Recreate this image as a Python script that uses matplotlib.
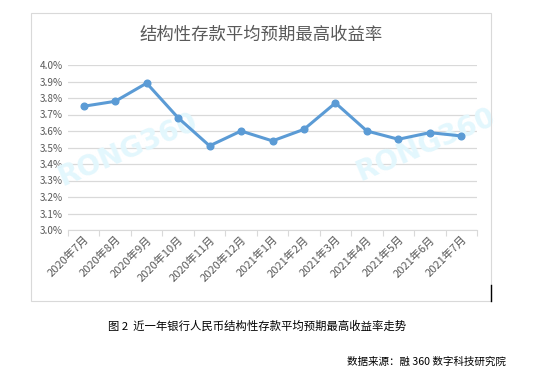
import matplotlib.pyplot as plt
from matplotlib.patches import Rectangle
from matplotlib.ticker import FuncFormatter

plt.rcParams['font.family'] = ['Noto Sans CJK SC', 'DejaVu Sans']

months = ['2020年7月', '2020年8月', '2020年9月', '2020年10月', '2020年11月', '2020年12月',
          '2021年1月', '2021年2月', '2021年3月', '2021年4月', '2021年5月', '2021年6月', '2021年7月']
rates = [3.75, 3.78, 3.89, 3.68, 3.51, 3.60, 3.54, 3.61, 3.77, 3.60, 3.55, 3.59, 3.57]
yticks = [3.0, 3.1, 3.2, 3.3, 3.4, 3.5, 3.6, 3.7, 3.8, 3.9, 4.0]

fig = plt.figure(figsize=(5.45, 3.8), dpi=100)
fig.patch.set_facecolor('white')

# chart frame
fig.patches.append(Rectangle((31 / 545, 1 - 301 / 380), 460 / 545, 288 / 380,
                             transform=fig.transFigure, fill=False,
                             edgecolor='#d9d9d9', linewidth=0.8))
fig.add_artist(plt.Line2D([491 / 545, 491 / 545], [1 - 301 / 380, 1 - 285 / 380],
                          transform=fig.transFigure, color='black', linewidth=1))

ax = fig.add_axes([68 / 545, 1 - 230 / 380, 409 / 545, 165 / 380])
x = range(len(months))
ax.plot(x, rates, color='#5b9bd5', linewidth=2.2, marker='o', markersize=4.8, zorder=5)

ax.set_xlim(-0.5, len(months) - 0.5)
ax.set_ylim(3.0, 4.0)
ax.set_yticks(yticks)
ax.yaxis.set_major_formatter(FuncFormatter(lambda v, p: f'{v:.1f}%'))
ax.grid(axis='y', color='#d9d9d9', linewidth=0.9)
ax.set_axisbelow(True)
for s in ['top', 'right', 'left']:
    ax.spines[s].set_visible(False)
ax.spines['bottom'].set_color('#d9d9d9')

ax.set_xticks([i - 0.5 for i in range(len(months) + 1)], minor=False)
ax.set_xticklabels([])
ax.set_xticks(list(x), minor=True)
ax.set_xticklabels(months, minor=True, rotation=45, ha='right', rotation_mode='anchor',
                   fontsize=8, color='#595959')
ax.tick_params(axis='x', which='major', length=4, color='#d9d9d9')
ax.tick_params(axis='x', which='minor', length=0, pad=3)
ax.tick_params(axis='y', length=0, labelsize=7.2, labelcolor='#595959', pad=4)

# watermarks (above grid, below the line)
for wx, wy in [(128, 150), (426, 145)]:
    ax.text(wx / 545, 1 - wy / 380, 'RONG360', fontsize=20, fontweight='bold',
            color='#e3f7fd', rotation=23, ha='center', va='center', family='DejaVu Sans',
            transform=fig.transFigure, zorder=3)

fig.text(261 / 545, 1 - 35 / 380, '结构性存款平均预期最高收益率', fontsize=12.5,
         color='#595959', ha='center', va='center')
fig.text(257 / 545, 1 - 326 / 380, '图 2  近一年银行人民币结构性存款平均预期最高收益率走势',
         fontsize=8.2, color='black', ha='center', va='center')
fig.text(506 / 545, 1 - 362 / 380, '数据来源：融 360 数字科技研究院',
         fontsize=7.6, color='black', ha='right', va='center')

plt.savefig('out.png', dpi=100)
